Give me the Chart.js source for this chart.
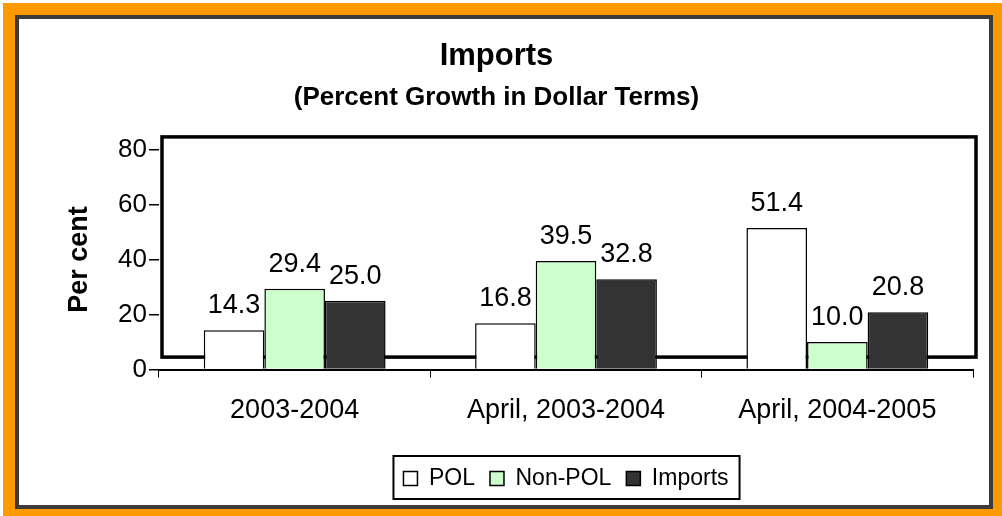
<!DOCTYPE html>
<html>
<head>
<meta charset="utf-8">
<script src="https://cdn.jsdelivr.net/npm/chart.js@4"></script>
<style>
    body { margin: 0; background: #fff; }
    .frame { position: absolute; left: 3px; top: 3px; width: 999px; height: 513px; background: #ff9900; }
    .inner { position: absolute; left: 12px; top: 12px; width: 978px; height: 494px; box-sizing: border-box; border: 4px solid #3c3c3c; background: #fff; }
    #myChart { position: absolute; left: 0; top: 0; }
</style>
</head>
<body>
<div class="frame"><div class="inner"></div></div>
<canvas id="myChart" width="1002" height="516"></canvas>
<script>
const categories = ['2003-2004', 'April, 2003-2004', 'April, 2004-2005'];
const polValues = [14.3, 16.8, 51.4];
const nonPolValues = [29.4, 39.5, 10.0];
const importValues = [25.0, 32.8, 20.8];
const yTicks = [0, 20, 40, 60, 80];

const fontFamily = '"Liberation Sans", Arial, sans-serif';
var ctx = document.getElementById('myChart').getContext('2d');

// the plot area border in the original sits a bit above the axis
const plotBox = {
    id: 'plotBox',
    beforeDatasetsDraw: (chart) => {
        const a = chart.chartArea;
        const c = chart.ctx;
        c.save();
        c.strokeStyle = '#000';
        c.lineWidth = 3.5;
        c.strokeRect(a.left + 3, a.top - 12.5, a.right - a.left, a.bottom - a.top);
        c.restore();
    }
};

const valueLabels = {
    id: 'valueLabels',
    afterDatasetsDraw: (chart) => {
        const c = chart.ctx;
        c.save();
        c.font = '27px ' + fontFamily;
        c.fillStyle = '#000';
        c.textAlign = 'center';
        c.textBaseline = 'alphabetic';
        chart.data.datasets.forEach((ds, i) => {
            chart.getDatasetMeta(i).data.forEach((bar, j) => {
                c.fillText(ds.data[j].toFixed(1), bar.x, bar.y - 17);
            });
        });
        c.restore();
    }
};

const legendBox = {
    id: 'legendBox',
    afterDraw: (chart) => {
        const lg = chart.legend;
        const hb = lg.legendHitBoxes;
        if (!hb || !hb.length) return;
        const c = chart.ctx;
        const first = hb[0];
        const last = hb[hb.length - 1];
        c.save();
        c.strokeStyle = '#000';
        c.lineWidth = 2;
        c.strokeRect(first.left - 10, first.top - 11, last.left + last.width - first.left + 21, 43);
        c.restore();
    }
};

var myChart = new Chart(ctx, {
    type: 'bar',
    data: {
        labels: categories,
        datasets: [{
            label: 'POL',
            data: polValues,
            backgroundColor: '#ffffff',
            borderColor: '#000',
            borderWidth: 1.5
        }, {
            label: 'Non-POL',
            data: nonPolValues,
            backgroundColor: '#ccffcc',
            borderColor: '#000',
            borderWidth: 1.5
        }, {
            label: 'Imports',
            data: importValues,
            backgroundColor: '#333333',
            borderColor: '#000',
            borderWidth: 1.5
        }]
    },
    options: {
        responsive: false,
        animation: false,
        layout: { padding: { left: 20, right: 29, top: 0, bottom: 16 } },
        categoryPercentage: 0.67,
        barPercentage: 1.0,
        plugins: {
            title: {
                display: true,
                text: 'Imports',
                color: '#000',
                font: { family: fontFamily, size: 31, weight: 'bold' },
                padding: { top: 38, bottom: 0 }
            },
            subtitle: {
                display: true,
                text: '(Percent Growth in Dollar Terms)',
                color: '#000',
                font: { family: fontFamily, size: 26, weight: 'bold' },
                padding: { top: 7, bottom: 36 }
            },
            legend: {
                position: 'bottom',
                fullSize: false,
                labels: {
                    color: '#000',
                    font: { family: fontFamily, size: 23 },
                    boxWidth: 14,
                    boxHeight: 14,
                    padding: 15,
                    useBorderRadius: false
                }
            },
            tooltip: { enabled: false }
        },
        scales: {
            x: {
                afterFit: (scale) => { scale.height = 82.4; },
                border: { display: true, color: '#000', width: 2 },
                grid: { display: true, drawOnChartArea: false, color: '#000', tickLength: 8, offset: true },
                ticks: {
                    color: '#000',
                    padding: 17,
                    font: { family: fontFamily, size: 27 },
                    maxRotation: 0
                }
            },
            y: {
                min: 0,
                max: 80,
                afterBuildTicks: (scale) => {
                    scale.ticks = yTicks.map(v => ({ value: v }));
                },
                afterFit: (scale) => { scale.width = 139; },
                border: { display: false },
                grid: { display: true, drawOnChartArea: false, color: '#000', tickLength: 10, lineWidth: 1.5 },
                ticks: {
                    color: '#000',
                    padding: 2,
                    font: { family: fontFamily, size: 26 }
                },
                title: {
                    display: true,
                    text: 'Per cent',
                    color: '#000',
                    font: { family: fontFamily, size: 27, weight: 'bold' },
                    padding: { top: 43, bottom: 23 }
                }
            }
        }
    },
    plugins: [plotBox, valueLabels, legendBox]
});
</script>
</body>
</html>
